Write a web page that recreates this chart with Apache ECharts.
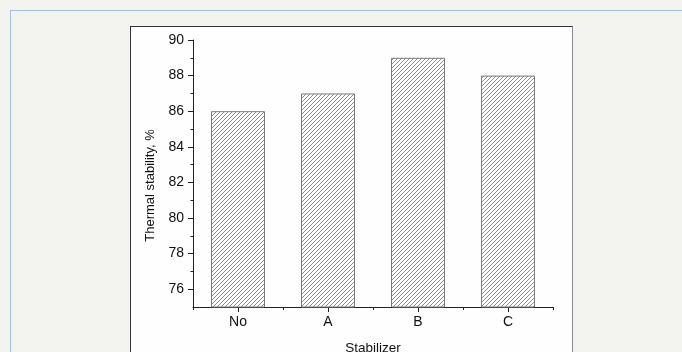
<!DOCTYPE html>
<html>
<head>
<meta charset="utf-8">
<script src="https://cdn.jsdelivr.net/npm/echarts@6/dist/echarts.min.js"></script>
<style>
  html, body { margin: 0; padding: 0; background: #f3f3ef; }
  #wrap { position: relative; width: 682px; height: 352px; overflow: hidden; background: #f3f3ef; }
  #frame { position: absolute; left: 10px; top: 10px; width: 690px; height: 360px;
           border-top: 1px solid #a3c0e2; border-left: 1px solid #a3c0e2; }
  #panel { position: absolute; left: 130px; top: 26px; width: 441px; height: 340px; background: #fefefe;
           border-top: 1px solid #333; border-left: 1px solid #333; border-right: 1px solid #8a8a8a; }
  #chart { position: absolute; left: 0; top: 0; width: 682px; height: 352px; }
</style>
</head>
<body>
<div id="wrap">
  <div id="frame"></div>
  <div id="panel"></div>
  <div id="chart"></div>
</div>
<script>
const categories = ['No', 'A', 'B', 'C'];
const stabilityValues = [86, 87, 89, 88];
const yTickLabels = [76, 78, 80, 82, 84, 86, 88, 90];
const yMinorTicks = [77, 79, 81, 83, 85, 87, 89];
const xAxisTitle = 'Stabilizer';
const yAxisTitle = 'Thermal stability, %';

// hatch pattern: crisp 1px "/" diagonal every 4px
const pc = document.createElement('canvas');
pc.width = 4; pc.height = 4;
const ctx = pc.getContext('2d');
ctx.fillStyle = '#ffffff';
ctx.fillRect(0, 0, 4, 4);
ctx.fillStyle = '#8e8e8e';
for (let i = 0; i < 4; i++) ctx.fillRect(i, 3 - i, 1, 1);

const chart = echarts.init(document.getElementById('chart'), null, { renderer: 'canvas' });
const font = 'Liberation Sans, Arial, sans-serif';
chart.setOption({
  backgroundColor: 'transparent',
  animation: false,
  grid: { left: 193, right: 129, top: 40, bottom: 45, containLabel: false, outerBoundsMode: 'none' },
  xAxis: [
    {
      type: 'category', data: categories, position: 'bottom',
      axisLine: { show: true, lineStyle: { color: '#222', width: 1 } },
      axisTick: { show: true, alignWithLabel: true, length: 5, lineStyle: { color: '#222' } },
      axisLabel: { color: '#111', fontSize: 14, fontFamily: font, margin: 8 },
      splitLine: { show: false },
      name: xAxisTitle, nameLocation: 'middle', nameGap: 34,
      nameTextStyle: { color: '#111', fontSize: 13.5, fontFamily: font }
    },
    {
      type: 'category', data: categories, position: 'bottom',
      axisLine: { show: false },
      axisTick: { show: true, alignWithLabel: false, length: 3, lineStyle: { color: '#222' } },
      axisLabel: { show: false },
      splitLine: { show: false }
    }
  ],
  yAxis: [
    {
      type: 'value', min: 75, max: 90, position: 'left',
      axisLine: { show: true, lineStyle: { color: '#222', width: 1 } },
      axisTick: { show: true, length: 5, customValues: yTickLabels, lineStyle: { color: '#222' } },
      axisLabel: { color: '#111', fontSize: 14, fontFamily: font, margin: 9, customValues: yTickLabels },
      splitLine: { show: false },
      name: yAxisTitle, nameLocation: 'middle', nameGap: 36,
      nameTextStyle: { color: '#111', fontSize: 13, fontFamily: font, padding: [0, 24, 0, 0] }
    },
    {
      type: 'value', min: 75, max: 90, position: 'left',
      axisLine: { show: false },
      axisTick: { show: true, length: 2.5, customValues: yMinorTicks, lineStyle: { color: '#222' } },
      axisLabel: { show: false, customValues: yMinorTicks },
      splitLine: { show: false }
    }
  ],
  series: [{
    type: 'bar',
    xAxisIndex: 0, yAxisIndex: 0,
    data: stabilityValues,
    barCategoryGap: '40%',
    itemStyle: { color: { image: pc, repeat: 'repeat' }, borderColor: '#7a7a7a', borderWidth: 1 }
  }]
});
</script>
</body>
</html>
